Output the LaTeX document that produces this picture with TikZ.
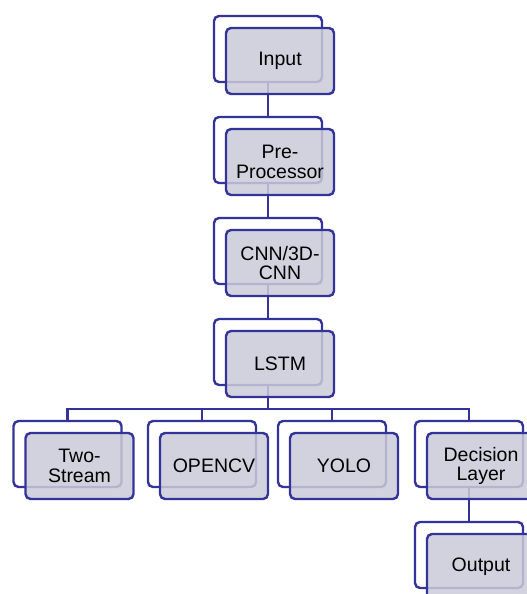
\documentclass[tikz,border=0pt]{standalone}
\usepackage{fontspec}
\setmainfont{Liberation Sans}
\definecolor{navy}{RGB}{51,51,153}
\definecolor{lav}{RGB}{203,203,218}
\begin{document}
\begin{tikzpicture}[x=1pt,y=-1pt,
  back/.style={draw=navy,line width=2.4pt,rounded corners=5pt,fill=white,
    minimum width=108pt,minimum height=66pt,inner sep=0pt,outer sep=0pt},
  front/.style={draw=navy,line width=2.4pt,rounded corners=5pt,fill=lav,fill opacity=0.85,text opacity=1,
    minimum width=108pt,minimum height=66pt,inner sep=0pt,outer sep=0pt,
    align=center,font=\fontsize{19.5pt}{19.5pt}\selectfont,text=black},
  conn/.style={draw=navy,line width=2.4pt}]
\useasboundingbox (0,0) rectangle (527,594);
\clip (0,0) rectangle (527,594);
% back boxes
\node[back] (b1) at (268,49) {};
\node[back] (b2) at (268,150) {};
\node[back] (b3) at (268,251) {};
\node[back] (b4) at (268,352) {};
\node[back] (b5) at (67.5,454) {};
\node[back] (b6) at (202,454) {};
\node[back] (b7) at (332,454) {};
\node[back] (b8) at (469,454) {};
\node[back] (b9) at (469,555) {};
% connectors
\coordinate (bus) at (268,409);
\draw[conn] (b1.south) -- (b2.north);
\draw[conn] (b2.south) -- (b3.north);
\draw[conn] (b3.south) -- (b4.north);
\draw[conn] (b4.south) -- (bus);
\draw[conn] (bus) -| (b5.north);
\draw[conn] (bus) -| (b6.north);
\draw[conn] (bus) -| (b7.north);
\draw[conn] (bus) -| (b8.north);
\draw[conn] (b8.south) -- (b9.north);
% front boxes
\node[front] (f1) at (280,61) {Input};
\node[front] (f2) at (280,162) {Pre-\\Processor};
\node[front] (f3) at (280,263) {CNN/3D-\\CNN};
\node[front] (f4) at (280,364) {LSTM};
\node[front] (f5) at (79.5,466) {Two-\\Stream};
\node[front] (f6) at (214,466) {OPENCV};
\node[front] (f7) at (344,466) {YOLO};
\node[front] (f8) at (481,466) {Decision\\Layer};
\node[front] (f9) at (481,567) {Output};
\end{tikzpicture}
\end{document}
